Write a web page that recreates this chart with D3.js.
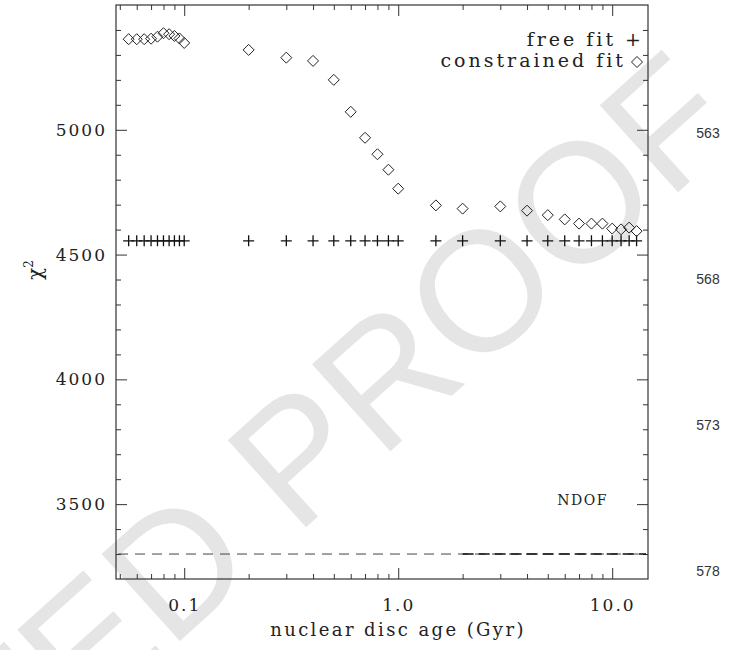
<!DOCTYPE html>
<html>
<head>
<meta charset="utf-8">
<script src="https://cdn.jsdelivr.net/npm/d3@7"></script>
<style>
  body { margin: 0; background: #fff; }
  svg { display: block; }
</style>
</head>
<body>
<svg width="732" height="650"></svg>
<script>
// ages in Gyr, chi^2 of the two fits, NDOF level
const ages = [0.055, 0.06, 0.065, 0.07, 0.075, 0.08, 0.085, 0.09, 0.095, 0.1,
  0.2, 0.3, 0.4, 0.5, 0.6, 0.7, 0.8, 0.9, 1.0, 1.5, 2, 3, 4, 5, 6, 7, 8, 9, 10, 11, 12, 13];
const constrainedChi2 = [5363, 5363, 5363, 5365, 5373, 5387, 5383, 5376, 5366, 5348,
  5320, 5289, 5276, 5200, 5072, 4968, 4902, 4840, 4764, 4697, 4684, 4693, 4676, 4658,
  4641, 4624, 4624, 4624, 4604, 4601, 4608, 4594];
const freeChi2 = [4555, 4555, 4555, 4555, 4555, 4555, 4555, 4555, 4555, 4555,
  4555, 4555, 4555, 4555, 4555, 4555, 4555, 4555, 4555, 4555, 4555, 4555, 4555, 4555,
  4555, 4555, 4555, 4555, 4555, 4555, 4555, 4555];
const ndof = 3300;
const ndofConstrainedFrom = 2.0;

const xMajor = [0.1, 1, 10];
const xMajorLabels = ["0.1", "1.0", "10.0"];
const xMinor = [0.05, 0.06, 0.07, 0.08, 0.09, 0.2, 0.3, 0.4, 0.5, 0.6, 0.7, 0.8, 0.9,
  2, 3, 4, 5, 6, 7, 8, 9];
const yMajor = [3500, 4000, 4500, 5000];
const yMinor = [3300, 3400, 3600, 3700, 3800, 3900, 4100, 4200, 4300, 4400, 4600,
  4700, 4800, 4900, 5100, 5200, 5300, 5400];
const lineNumbers = ["563", "568", "573", "578"];

const svg = d3.select("svg");
const margin = { left: 116, top: 5, right: 84, bottom: 71 };
const width = 732 - margin.left - margin.right;
const height = 650 - margin.top - margin.bottom;
const serif = "'DejaVu Serif', serif";
const ink = "#222";

// proof watermark
svg.append("text")
  .attr("transform", "translate(745,132) rotate(-42)")
  .attr("text-anchor", "end")
  .attr("font-family", "'Liberation Sans', Arial, sans-serif")
  .attr("font-size", 170)
  .attr("fill", "#e5e5e5")
  .text("UNCORRECTED PROOF");

const x = d3.scaleLog().domain([0.048, 14.7]).range([0, width]);
const y = d3.scaleLinear().domain([3200, 5500]).range([height, 0]);

const g = svg.append("g").attr("transform", `translate(${margin.left},${margin.top})`);

function styleAxis(sel) {
  sel.select(".domain").remove();
  sel.selectAll("line").attr("stroke", "#333");
  sel.selectAll("text")
    .attr("font-family", serif)
    .attr("font-size", 17)
    .attr("letter-spacing", 2)
    .attr("fill", ink);
}

g.append("g").attr("transform", `translate(0,${height})`)
  .call(d3.axisBottom(x).tickValues(xMajor).tickSize(-11).tickPadding(20)
    .tickFormat((d, i) => xMajorLabels[i]))
  .call(styleAxis);
g.append("g").attr("transform", `translate(0,${height})`)
  .call(d3.axisBottom(x).tickValues(xMinor).tickSize(-5).tickFormat(""))
  .call(styleAxis);
g.append("g")
  .call(d3.axisTop(x).tickValues(xMajor).tickSize(-11).tickFormat(""))
  .call(styleAxis);
g.append("g")
  .call(d3.axisTop(x).tickValues(xMinor).tickSize(-5).tickFormat(""))
  .call(styleAxis);
g.append("g")
  .call(d3.axisLeft(y).tickValues(yMajor).tickSize(-11).tickPadding(9).tickFormat(d3.format("d")))
  .call(styleAxis);
g.append("g")
  .call(d3.axisLeft(y).tickValues(yMinor).tickSize(-5).tickFormat(""))
  .call(styleAxis);
g.append("g").attr("transform", `translate(${width},0)`)
  .call(d3.axisRight(y).tickValues(yMajor).tickSize(-11).tickFormat(""))
  .call(styleAxis);
g.append("g").attr("transform", `translate(${width},0)`)
  .call(d3.axisRight(y).tickValues(yMinor).tickSize(-5).tickFormat(""))
  .call(styleAxis);

g.append("rect")
  .attr("width", width).attr("height", height)
  .attr("fill", "none").attr("stroke", "#333").attr("stroke-width", 1.2);

// NDOF lines
g.append("line")
  .attr("x1", x(x.domain()[0]) + 2).attr("x2", x(x.domain()[1]) - 2)
  .attr("y1", y(ndof)).attr("y2", y(ndof))
  .attr("stroke", "#444").attr("stroke-dasharray", "10,7");
g.append("line")
  .attr("x1", x(ndofConstrainedFrom)).attr("x2", x(x.domain()[1]) - 2)
  .attr("y1", y(ndof)).attr("y2", y(ndof))
  .attr("stroke", "#111").attr("stroke-width", 1.6).attr("stroke-dasharray", "11,5");

g.append("text")
  .attr("x", x(x.domain()[1]) - 40).attr("y", y(3500) + 1)
  .attr("text-anchor", "end")
  .attr("font-family", serif).attr("font-size", 14).attr("letter-spacing", 1.5)
  .attr("fill", ink)
  .text("NDOF");

// markers
const diamond = "M0,-5.5L5.5,0L0,5.5L-5.5,0Z";
const cross = "M-5.5,0H5.5M0,-5.5V5.5";

g.append("g").selectAll("path")
  .data(ages)
  .join("path")
  .attr("d", cross)
  .attr("transform", (d, i) => `translate(${x(d)},${y(freeChi2[i])})`)
  .attr("fill", "none").attr("stroke", "#111").attr("stroke-width", 1.3);

g.append("g").selectAll("path")
  .data(ages)
  .join("path")
  .attr("d", diamond)
  .attr("transform", (d, i) => `translate(${x(d)},${y(constrainedChi2[i])})`)
  .attr("fill", "none").attr("stroke", "#222").attr("stroke-width", 1);

// legend
const legend = g.append("g")
  .attr("font-family", serif).attr("font-size", 19).attr("letter-spacing", 3)
  .attr("fill", ink).attr("text-anchor", "end");
legend.append("text").attr("x", 528).attr("y", 41).text("free fit +");
legend.append("text").attr("x", 510).attr("y", 62).text("constrained fit");
legend.append("path").attr("d", diamond)
  .attr("transform", "translate(521,57)")
  .attr("fill", "none").attr("stroke", "#222");

// axis titles
svg.append("text")
  .attr("x", margin.left + width / 2 + 16).attr("y", 636)
  .attr("text-anchor", "middle")
  .attr("font-family", serif).attr("font-size", 18).attr("letter-spacing", 2.4)
  .attr("fill", ink)
  .text("nuclear disc age (Gyr)");

const yt = svg.append("text")
  .attr("transform", "translate(42,270) rotate(-90)")
  .attr("text-anchor", "middle")
  .attr("font-family", serif).attr("font-size", 20)
  .attr("fill", ink);
yt.append("tspan").text("χ");
yt.append("tspan").attr("font-size", 12).attr("dy", -9).text("2");

// manuscript line numbers on the right
svg.append("g").selectAll("text")
  .data(lineNumbers)
  .join("text")
  .attr("x", 708)
  .attr("y", (d, i) => 138 + i * 146)
  .attr("text-anchor", "middle")
  .attr("font-family", "'Liberation Sans', Arial, sans-serif")
  .attr("font-size", 14)
  .attr("fill", "#333")
  .text(d => d);
</script>
</body>
</html>
